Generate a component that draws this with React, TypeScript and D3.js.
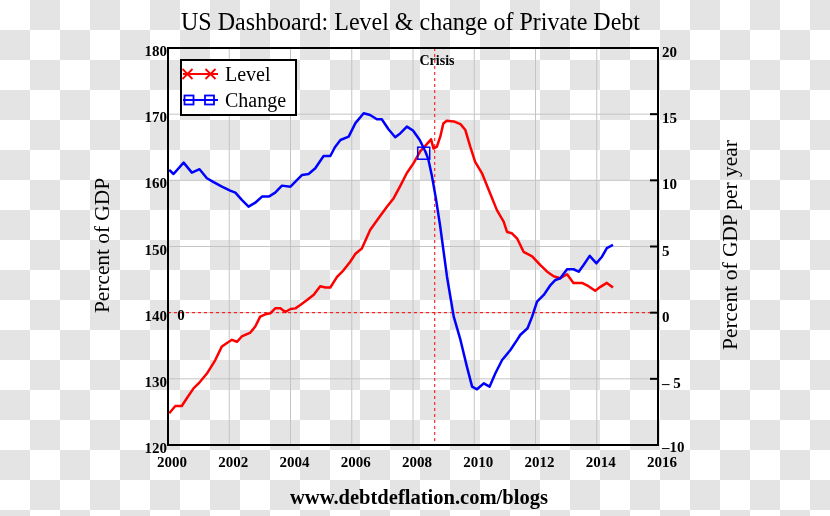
import React from "react";
import * as d3 from "d3";

const levelYears = [2000.04, 2000.24, 2000.45, 2000.62, 2000.84, 2001.0, 2001.27, 2001.54, 2001.76, 2001.95, 2002.09, 2002.25, 2002.41, 2002.69, 2002.85, 2003.01, 2003.18, 2003.34, 2003.5, 2003.67, 2003.83, 2004.0, 2004.16, 2004.32, 2004.54, 2004.76, 2004.97, 2005.14, 2005.3, 2005.52, 2005.73, 2005.95, 2006.12, 2006.33, 2006.6, 2006.88, 2007.15, 2007.37, 2007.59, 2007.8, 2008.02, 2008.24, 2008.4, 2008.59, 2008.67, 2008.78, 2008.89, 2008.99, 2009.1, 2009.33, 2009.55, 2009.71, 2009.87, 2010.03, 2010.25, 2010.52, 2010.74, 2010.96, 2011.07, 2011.23, 2011.4, 2011.61, 2011.89, 2012.16, 2012.38, 2012.59, 2012.81, 2013.03, 2013.24, 2013.52, 2013.73, 2013.95, 2014.12, 2014.33, 2014.53];
const levelValues = [124.8, 125.9, 125.9, 127.1, 128.6, 129.3, 130.8, 132.8, 134.9, 135.5, 135.9, 135.6, 136.4, 137.0, 137.9, 139.4, 139.75, 139.9, 140.65, 140.65, 140.1, 140.55, 140.65, 141.15, 141.9, 142.7, 144.0, 143.8, 143.8, 145.4, 146.4, 147.7, 148.9, 149.7, 152.5, 154.3, 156.0, 157.3, 159.2, 161.1, 162.6, 164.4, 165.2, 166.2, 164.8, 165.1, 166.6, 168.6, 169.0, 168.9, 168.5, 167.6, 165.1, 162.8, 161.1, 158.0, 155.5, 153.75, 152.2, 152.0, 151.2, 149.2, 148.5, 147.2, 146.2, 145.5, 145.2, 145.8, 144.5, 144.5, 144.0, 143.3, 143.9, 144.5, 143.8];

const changeYears = [2000.04, 2000.18, 2000.51, 2000.78, 2001.03, 2001.27, 2001.49, 2001.76, 2002.03, 2002.2, 2002.41, 2002.63, 2002.85, 2003.07, 2003.29, 2003.5, 2003.72, 2004.0, 2004.16, 2004.38, 2004.59, 2004.81, 2005.08, 2005.3, 2005.45, 2005.63, 2005.9, 2006.12, 2006.39, 2006.6, 2006.82, 2006.98, 2007.2, 2007.42, 2007.59, 2007.8, 2008.0, 2008.22, 2008.4, 2008.5, 2008.62, 2008.75, 2008.89, 2009.11, 2009.33, 2009.55, 2009.76, 2009.93, 2010.09, 2010.31, 2010.5, 2010.69, 2010.91, 2011.18, 2011.4, 2011.5, 2011.74, 2011.89, 2012.05, 2012.27, 2012.49, 2012.65, 2012.81, 2013.03, 2013.24, 2013.41, 2013.57, 2013.77, 2013.99, 2014.17, 2014.33, 2014.53];
const changeValues = [10.79, 10.48, 11.34, 10.58, 10.84, 10.16, 9.86, 9.52, 9.22, 9.07, 8.52, 8.01, 8.31, 8.77, 8.77, 9.07, 9.6, 9.52, 9.9, 10.41, 10.48, 10.91, 11.84, 11.84, 12.5, 13.05, 13.3, 14.32, 15.07, 14.94, 14.62, 14.62, 13.86, 13.26, 13.56, 14.06, 13.76, 13.05, 12.2, 11.6, 10.3, 8.6, 6.5, 2.72, -0.3, -2.06, -4.08, -5.59, -5.79, -5.34, -5.59, -4.58, -3.58, -2.82, -2.06, -1.69, -1.18, -0.3, 0.83, 1.34, 2.09, 2.47, 2.6, 3.28, 3.28, 3.1, 3.6, 4.29, 3.73, 4.23, 4.87, 5.12];

const xTicks = [2000, 2002, 2004, 2006, 2008, 2010, 2012, 2014, 2016];
const leftTicks = [120, 130, 140, 150, 160, 170, 180];
const rightTicks = [-10, -5, 0, 5, 10, 15, 20];
const rightTickLabels = ["\u201310", "\u2013 5", "0", "5", "10", "15", "20"];
const crisisYear = 2008.71;
const markerYear = 2008.35;
const markerChange = 12.05;

const serif = "'Liberation Serif', 'Times New Roman', serif";

export default function App() {
  const L = 168, R = 658, T = 48, B = 445;
  const x = d3.scaleLinear().domain([2000, 2016]).range([L, R]);
  const yL = d3.scaleLinear().domain([120, 180]).range([B, T]);
  const yR = d3.scaleLinear().domain([-10, 20]).range([B, T]);

  const levelLine = d3.line<number>().x((_, i) => x(levelYears[i])).y((v) => yL(v));
  const changeLine = d3.line<number>().x((_, i) => x(changeYears[i])).y((v) => yR(v));

  const mx = x(markerYear), my = yR(markerChange);

  return (
    <svg width={830} height={516} style={{ position: "fixed", left: 0, top: 0 }} fontFamily={serif}>
      <defs>
        <pattern id="checker" width={60} height={60} patternUnits="userSpaceOnUse">
          <rect width={60} height={60} fill="#ffffff" />
          <rect x={30} y={0} width={30} height={30} fill="#e4e4e4" />
          <rect x={0} y={30} width={30} height={30} fill="#e4e4e4" />
        </pattern>
        <clipPath id="plot">
          <rect x={L} y={T} width={R - L} height={B - T} />
        </clipPath>
      </defs>
      <rect width={830} height={516} fill="url(#checker)" />

      {/* gridlines */}
      {xTicks.slice(1, -1).map((t) => (
        <line key={"gx" + t} x1={x(t)} x2={x(t)} y1={T} y2={B} stroke="#c4c4c4" strokeWidth={1} />
      ))}
      {leftTicks.slice(1, -1).map((t) => (
        <line key={"gy" + t} x1={L} x2={R} y1={yL(t)} y2={yL(t)} stroke="#c4c4c4" strokeWidth={1} />
      ))}

      {/* zero line and crisis line */}
      <line x1={L} x2={R} y1={yR(0)} y2={yR(0)} stroke="#ff0000" strokeWidth={1} strokeDasharray="3,3" />
      <line x1={x(crisisYear)} x2={x(crisisYear)} y1={T} y2={B} stroke="#ff0000" strokeWidth={1} strokeDasharray="3,3" />

      <g clipPath="url(#plot)">
        <path d={levelLine(levelValues) || ""} fill="none" stroke="#ff0000" strokeWidth={2.5} strokeLinejoin="round" />
        <path d={changeLine(changeValues) || ""} fill="none" stroke="#0000ff" strokeWidth={2.5} strokeLinejoin="round" />
        <rect x={mx - 6} y={my - 6} width={12} height={12} fill="none" stroke="#0000ff" strokeWidth={1.5} />
      </g>

      {/* frame */}
      <rect x={L} y={T} width={R - L} height={B - T} fill="none" stroke="#000" strokeWidth={2} />

      {/* right inward ticks */}
      {rightTicks.slice(1, -1).map((t) => (
        <line key={"rt" + t} x1={R - 8} x2={R} y1={yR(t)} y2={yR(t)} stroke="#000" strokeWidth={2} />
      ))}

      {/* left tick labels */}
      {leftTicks.map((t) => (
        <text key={"ll" + t} x={L - 1} y={yL(t) + 3} textAnchor="end" dominantBaseline="central" fontSize={15} fontWeight="bold">
          {t}
        </text>
      ))}
      {/* right tick labels */}
      {rightTicks.map((t, i) => (
        <text key={"rl" + t} x={R + 4} y={yR(t) + (t === -10 ? 2 : 4)} textAnchor="start" dominantBaseline="central" fontSize={15} fontWeight="bold">
          {rightTickLabels[i]}
        </text>
      ))}
      {/* x tick labels */}
      {xTicks.map((t) => (
        <text key={"xl" + t} x={x(t) + 4} y={467} textAnchor="middle" fontSize={15} fontWeight="bold">
          {t}
        </text>
      ))}

      {/* zero label inside plot */}
      <text x={181} y={315} textAnchor="middle" dominantBaseline="central" fontSize={15} fontWeight="bold">0</text>

      {/* crisis label */}
      <text x={437} y={65} textAnchor="middle" fontSize={14} fontWeight="bold">Crisis</text>

      {/* legend */}
      <rect x={181} y={60} width={115} height={55} fill="#ffffff" stroke="#000" strokeWidth={2} />
      <line x1={183} x2={218} y1={74} y2={74} stroke="#ff0000" strokeWidth={2} />
      {[187.5, 210.5].map((cx) => (
        <g key={"lx" + cx} stroke="#ff0000" strokeWidth={1.8}>
          <line x1={cx - 5} x2={cx + 5} y1={69} y2={79} />
          <line x1={cx - 5} x2={cx + 5} y1={79} y2={69} />
        </g>
      ))}
      <text x={225} y={74} dominantBaseline="central" fontSize={20}>Level</text>
      <line x1={183} x2={218} y1={100} y2={100} stroke="#0000ff" strokeWidth={2} />
      {[189, 209.5].map((cx) => (
        <rect key={"ls" + cx} x={cx - 4.5} y={95.5} width={9} height={9} fill="none" stroke="#0000ff" strokeWidth={1.8} />
      ))}
      <text x={225} y={100} dominantBaseline="central" fontSize={20}>Change</text>

      {/* titles */}
      <text x={410.5} y={30} textAnchor="middle" fontSize={25} textLength={459} lengthAdjust="spacingAndGlyphs">
        US Dashboard: Level &amp; change of Private Debt
      </text>
      <text transform="translate(109,245.5) rotate(-90)" textAnchor="middle" fontSize={21} textLength={135} lengthAdjust="spacingAndGlyphs">
        Percent of GDP
      </text>
      <text transform="translate(737,245) rotate(-90)" textAnchor="middle" fontSize={21} textLength={210} lengthAdjust="spacingAndGlyphs">
        Percent of GDP per year
      </text>
      <text x={419} y={504} textAnchor="middle" fontSize={20} fontWeight="bold" textLength={258} lengthAdjust="spacingAndGlyphs">
        www.debtdeflation.com/blogs
      </text>
    </svg>
  );
}
